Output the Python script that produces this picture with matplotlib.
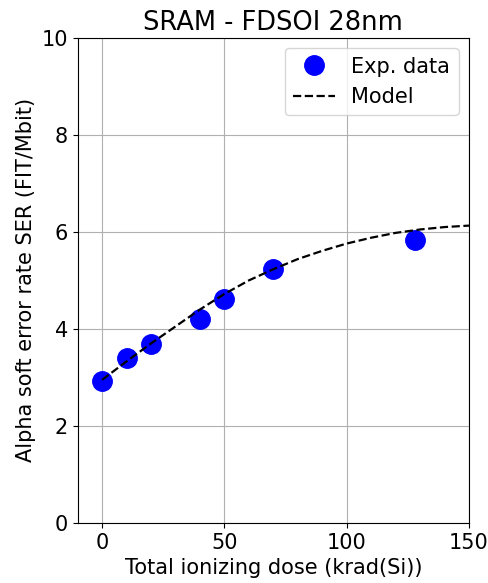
import matplotlib
matplotlib.use("Agg")
import matplotlib.pyplot as plt

dose_exp = [0, 10, 20, 40, 50, 70, 128]
ser_exp = [2.92, 3.40, 3.69, 4.20, 4.62, 5.24, 5.84]

dose_model = [0, 10, 20, 30, 40, 50, 60, 70, 80, 90, 100, 110, 120, 130, 140, 150]
ser_model = [2.95, 3.33, 3.70, 4.05, 4.40, 4.72, 5.00, 5.23, 5.44, 5.61, 5.76, 5.88, 5.98, 6.05, 6.10, 6.13]

fig = plt.figure(figsize=(4.88, 5.83), dpi=100)
ax = fig.add_axes([0.159, 0.103, 0.802, 0.832])
ax.plot(dose_exp, ser_exp, 'o', color='blue', markersize=14, label='Exp. data', zorder=3)
ax.plot(dose_model, ser_model, '--', color='black', linewidth=1.6, label='Model', zorder=4)
ax.set_xlim(-10, 150)
ax.set_ylim(0, 10)
ax.set_xticks([0, 50, 100, 150])
ax.set_yticks([0, 2, 4, 6, 8, 10])
ax.tick_params(labelsize=15)
ax.grid(True, color='#b0b0b0', linewidth=0.8)
ax.set_xlabel('Total ionizing dose (krad(Si))', fontsize=15)
ax.set_ylabel('Alpha soft error rate SER (FIT/Mbit)', fontsize=15)
ax.set_title('SRAM - FDSOI 28nm', fontsize=18.5)
ax.legend(loc='upper right', fontsize=15)
fig.savefig('out.png', dpi=100)
